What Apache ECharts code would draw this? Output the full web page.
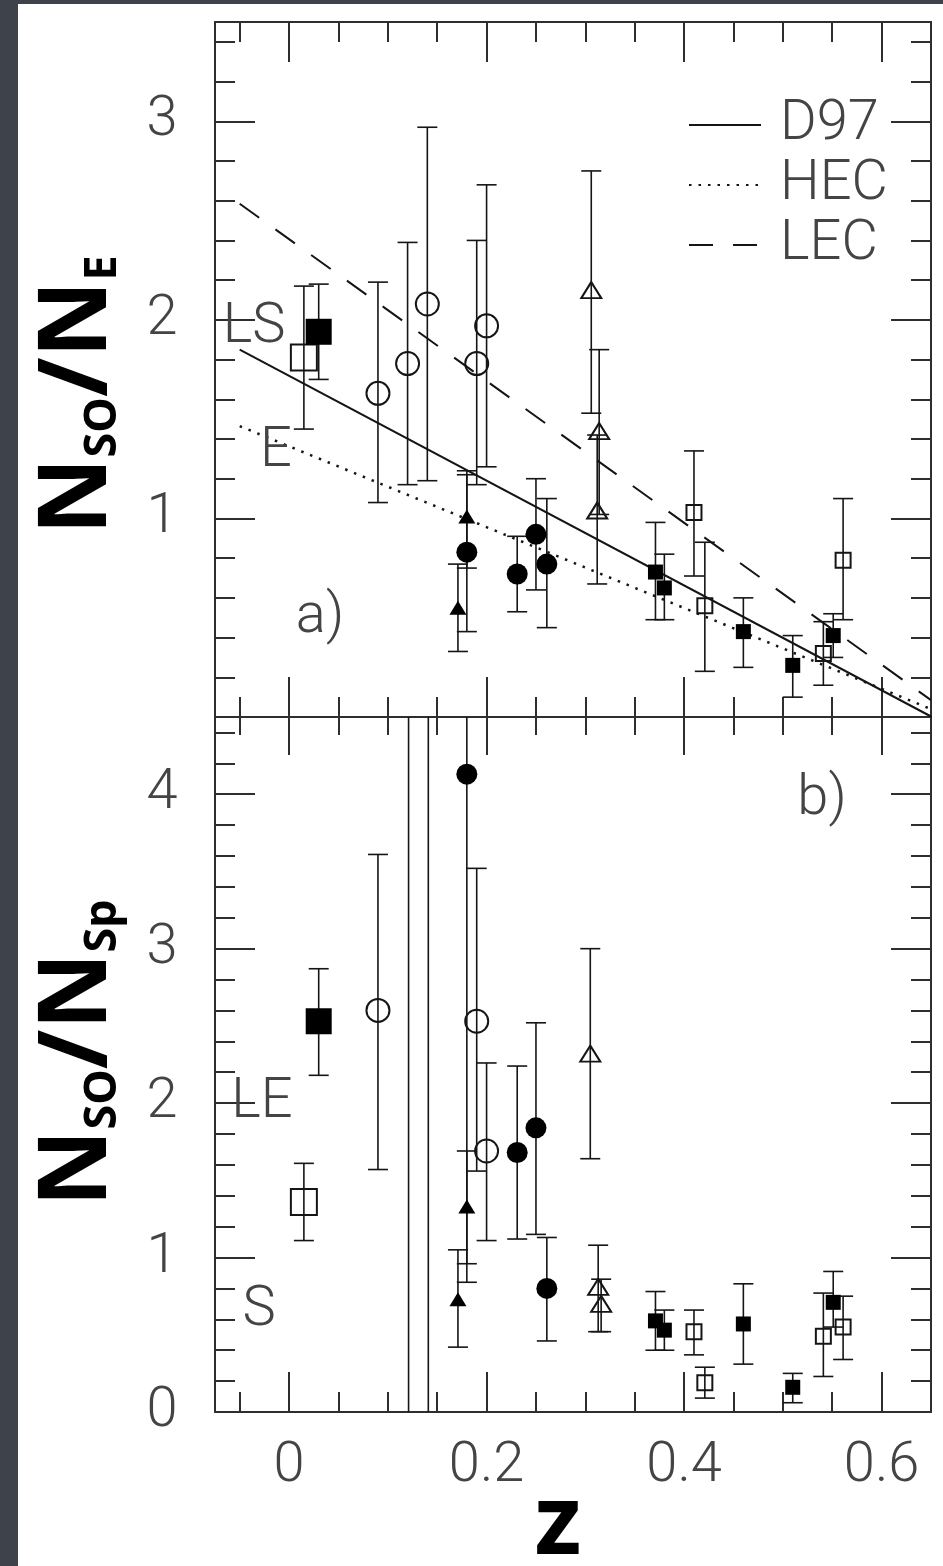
<!DOCTYPE html>
<html>
<head>
<meta charset="utf-8">
<script src="https://cdn.jsdelivr.net/npm/echarts@6/dist/echarts.min.js"></script>
<style>
  html, body { margin: 0; padding: 0; background: #ffffff; }
  #chart { width: 943px; height: 1566px; }
</style>
</head>
<body>
<div id="chart"></div>
<script>
// ---- axis ranges ----
const Z_MIN = -0.075, Z_MAX = 0.65;
const A_MAX = 3.5;   // panel a) N_SO/N_E
const B_MAX = 4.5;   // panel b) N_SO/N_Sp

// ---- tick values ----
const zMinorTicks = [-0.05, 0, 0.05, 0.1, 0.15, 0.2, 0.25, 0.3, 0.35, 0.4, 0.45, 0.5, 0.55, 0.6];
const zMajorTicks = [0, 0.2, 0.4, 0.6];
const zTickLabels = [0, 0.2, 0.4, 0.6];
const aMinorTicks = [0.2, 0.4, 0.6, 0.8, 1, 1.2, 1.4, 1.6, 1.8, 2, 2.2, 2.4, 2.6, 2.8, 3, 3.2, 3.4];
const aMajorTicks = [1, 2, 3];
const aTickLabels = [1, 2, 3];
const bMinorTicks = [0.2, 0.4, 0.6, 0.8, 1, 1.2, 1.4, 1.6, 1.8, 2, 2.2, 2.4, 2.6, 2.8, 3, 3.2, 3.4, 3.6, 3.8, 4, 4.2, 4.4];
const bMajorTicks = [1, 2, 3, 4];
const bTickLabels = [0, 1, 2, 3, 4];

// ---- panel a): rows are [z, ratio, low, high] ----
const aBigOpenSquares   = [[0.015, 1.81, 1.45, 2.17]];
const aBigFilledSquares = [[0.030, 1.94, 1.70, 2.18]];
const aOpenCircles = [
  [0.090, 1.63, 1.08, 2.19],
  [0.120, 1.78, 1.17, 2.39],
  [0.140, 2.08, 1.19, 2.97],
  [0.190, 1.78, 1.17, 2.40],
  [0.200, 1.97, 1.26, 2.68]
];
const aFilledTriangles = [
  [0.171, 0.55, 0.33, 0.77],
  [0.180, 1.01, 0.75, 1.24]
];
const aFilledCircles = [
  [0.180, 0.83, 0.43, 1.22],
  [0.231, 0.72, 0.53, 0.91],
  [0.250, 0.92, 0.64, 1.20],
  [0.261, 0.77, 0.45, 1.10]
];
const aOpenTriangles = [
  [0.306, 2.15, 1.53, 2.75],
  [0.314, 1.44, 1.02, 1.85],
  [0.312, 1.04, 0.67, 1.42]
];
const aSmallFilledSquares = [
  [0.371, 0.73, 0.49, 0.98],
  [0.380, 0.65, 0.49, 0.82],
  [0.460, 0.43, 0.25, 0.60],
  [0.510, 0.26, 0.10, 0.41],
  [0.551, 0.41, 0.30, 0.52]
];
const aSmallOpenSquares = [
  [0.410, 1.03, 0.71, 1.34],
  [0.421, 0.56, 0.23, 0.88],
  [0.541, 0.32, 0.16, 0.48],
  [0.561, 0.79, 0.49, 1.10]
];

// model relations in panel a): [z, ratio] end points
const d97Line = [[-0.05, 1.85], [0.651, 0.0]];
const hecLine = [[-0.05, 1.465], [0.65, 0.04]];
const lecLine = [[-0.05, 2.585], [0.65, 0.085]];

// ---- panel b): rows are [z, ratio, low, high] ----
const bBigOpenSquares   = [[0.015, 1.36, 1.11, 1.61]];
const bBigFilledSquares = [[0.030, 2.53, 2.18, 2.87]];
const bOpenCircles = [
  [0.090, 2.60, 1.57, 3.61],
  [0.121, 5.60, -0.3, 11.0],   // off scale
  [0.141, 6.90, -0.2, 14.0],   // off scale
  [0.190, 2.53, 1.56, 3.52],
  [0.200, 1.69, 1.11, 2.26]
];
const bFilledTriangles = [
  [0.171, 0.73, 0.42, 1.05],
  [0.180, 1.33, 0.96, 1.69]
];
const bFilledCircles = [
  [0.180, 4.13, 0.84, 4.90],
  [0.231, 1.68, 1.12, 2.24],
  [0.250, 1.84, 1.15, 2.52],
  [0.261, 0.80, 0.46, 1.13]
];
const bOpenTriangles = [
  [0.305, 2.32, 1.64, 3.00],
  [0.313, 0.81, 0.52, 1.08],
  [0.316, 0.70, 0.52, 0.86]
];
const bSmallFilledSquares = [
  [0.371, 0.59, 0.40, 0.78],
  [0.380, 0.53, 0.40, 0.66],
  [0.460, 0.57, 0.31, 0.83],
  [0.510, 0.16, 0.06, 0.25],
  [0.551, 0.71, 0.55, 0.91]
];
const bSmallOpenSquares = [
  [0.410, 0.52, 0.37, 0.66],
  [0.421, 0.19, 0.09, 0.29],
  [0.541, 0.49, 0.23, 0.77],
  [0.561, 0.55, 0.34, 0.75]
];

// ---- styling ----
const FRAME = '#2e2e2e';
const INK = '#000000';
const LABEL_FONT = 'Roboto';
const LABEL_COLOR = '#444';
const LABEL_SIZE = 56;

const chart = echarts.init(document.getElementById('chart'), null, { renderer: 'canvas' });

// axis helpers: several overlaid axes give minor/major tick lengths
function xAxisDef(grid, position, ticks, len, showLine, labels) {
  return {
    type: 'value', gridIndex: grid, position: position, min: Z_MIN, max: Z_MAX,
    axisLine: { show: showLine, onZero: false, lineStyle: { color: FRAME, width: 2 } },
    axisTick: { show: true, inside: true, length: len, customValues: ticks, lineStyle: { color: FRAME, width: 2 } },
    axisLabel: labels ? {
      show: true, customValues: labels, margin: 27,
      fontFamily: LABEL_FONT, fontWeight: 300, fontSize: LABEL_SIZE, color: LABEL_COLOR,
      formatter: v => String(+v.toFixed(2))
    } : { show: false },
    splitLine: { show: false }
  };
}
function yAxisDef(grid, position, max, ticks, len, showLine, labels) {
  return {
    type: 'value', gridIndex: grid, position: position, min: 0, max: max,
    axisLine: { show: showLine, onZero: false, lineStyle: { color: FRAME, width: 2 } },
    axisTick: { show: true, inside: true, length: len, customValues: ticks, lineStyle: { color: FRAME, width: 2 } },
    axisLabel: labels ? {
      show: true, customValues: labels, margin: 53, align: 'center',
      fontFamily: LABEL_FONT, fontWeight: 300, fontSize: LABEL_SIZE, color: LABEL_COLOR,
      formatter: v => String(+v.toFixed(2))
    } : { show: false },
    splitLine: { show: false }
  };
}

const xAxes = [
  xAxisDef(0, 'bottom', zMinorTicks, 20, true, null),   // 0: a) bottom (used by series)
  xAxisDef(0, 'bottom', zMajorTicks, 40, false, null),
  xAxisDef(0, 'top', zMinorTicks, 20, true, null),
  xAxisDef(0, 'top', zMajorTicks, 40, false, null),
  xAxisDef(1, 'bottom', zMinorTicks, 20, true, zTickLabels), // 4: b) bottom (used by series)
  xAxisDef(1, 'bottom', zMajorTicks, 40, false, null),
  xAxisDef(1, 'top', zMinorTicks, 18, true, null),
  xAxisDef(1, 'top', zMajorTicks, 38, false, null)
];
const yAxes = [
  yAxisDef(0, 'left', A_MAX, aMinorTicks, 20, true, aTickLabels), // 0: a) left (used by series)
  yAxisDef(0, 'left', A_MAX, aMajorTicks, 40, false, null),
  yAxisDef(0, 'right', A_MAX, aMinorTicks, 20, true, null),
  yAxisDef(0, 'right', A_MAX, aMajorTicks, 40, false, null),
  yAxisDef(1, 'left', B_MAX, bMinorTicks, 20, true, bTickLabels), // 4: b) left (used by series)
  yAxisDef(1, 'left', B_MAX, bMajorTicks, 40, false, null),
  yAxisDef(1, 'right', B_MAX, bMinorTicks, 20, true, null),
  yAxisDef(1, 'right', B_MAX, bMajorTicks, 40, false, null)
];

// vertical error bars with end caps
function errorBars(rows, xi, yi) {
  return {
    type: 'custom', xAxisIndex: xi, yAxisIndex: yi, clip: true, silent: true, z: 2,
    data: rows.map(r => [r[0], r[2], r[3]]),
    encode: { x: 0, y: [1, 2] },
    renderItem: function (params, api) {
      const z = api.value(0);
      const lo = api.coord([z, api.value(1)]);
      const hi = api.coord([z, api.value(2)]);
      const cap = 10;
      const style = { stroke: '#151515', lineWidth: 1.6, fill: null };
      return {
        type: 'group', children: [
          { type: 'line', shape: { x1: lo[0], y1: lo[1], x2: hi[0], y2: hi[1] }, style: style },
          { type: 'line', shape: { x1: lo[0] - cap, y1: lo[1], x2: lo[0] + cap, y2: lo[1] }, style: style },
          { type: 'line', shape: { x1: hi[0] - cap, y1: hi[1], x2: hi[0] + cap, y2: hi[1] }, style: style }
        ]
      };
    }
  };
}

function markers(rows, xi, yi, symbol, size, filled) {
  return {
    type: 'scatter', xAxisIndex: xi, yAxisIndex: yi, clip: true, silent: true, z: 3,
    data: rows.map(r => [r[0], r[1]]),
    symbol: symbol, symbolSize: size,
    itemStyle: {
      color: filled ? INK : 'rgba(0,0,0,0)',
      borderColor: '#151515', borderWidth: filled ? 0 : 2,
      opacity: 1
    }
  };
}

function panelSeries(xi, yi, g) {
  const all = [].concat(g.bigOpen, g.bigFilled, g.openCircles, g.filledTriangles,
    g.filledCircles, g.openTriangles, g.smallFilled, g.smallOpen);
  return [
    errorBars(all, xi, yi),
    markers(g.bigOpen, xi, yi, 'rect', 26, false),
    markers(g.bigFilled, xi, yi, 'rect', 26, true),
    markers(g.openCircles, xi, yi, 'circle', 23, false),
    markers(g.filledTriangles, xi, yi, 'triangle', [17, 14], true),
    markers(g.filledCircles, xi, yi, 'circle', 21, true),
    markers(g.openTriangles, xi, yi, 'triangle', [20, 16], false),
    markers(g.smallFilled, xi, yi, 'rect', 15, true),
    markers(g.smallOpen, xi, yi, 'rect', 15, false)
  ];
}

function modelLine(name, data, type, width) {
  return {
    type: 'line', name: name, xAxisIndex: 0, yAxisIndex: 0, data: data,
    symbol: 'none', silent: true, clip: true, z: 1,
    itemStyle: { color: '#151515' },
    lineStyle: { color: '#151515', width: width, type: type }
  };
}

const series = [].concat(
  [
    modelLine('D97', d97Line, 'solid', 2),
    modelLine('HEC', hecLine, [2.5, 7], 2.5),
    modelLine('LEC', lecLine, [24, 20], 2)
  ],
  panelSeries(0, 0, {
    bigOpen: aBigOpenSquares, bigFilled: aBigFilledSquares, openCircles: aOpenCircles,
    filledTriangles: aFilledTriangles, filledCircles: aFilledCircles, openTriangles: aOpenTriangles,
    smallFilled: aSmallFilledSquares, smallOpen: aSmallOpenSquares
  }),
  panelSeries(4, 4, {
    bigOpen: bBigOpenSquares, bigFilled: bBigFilledSquares, openCircles: bOpenCircles,
    filledTriangles: bFilledTriangles, filledCircles: bFilledCircles, openTriangles: bOpenTriangles,
    smallFilled: bSmallFilledSquares, smallOpen: bSmallOpenSquares
  })
);

function note(text, x, y) {
  return {
    type: 'text', x: x, y: y, silent: true, z: 10,
    style: {
      text: text, fill: LABEL_COLOR, align: 'center', verticalAlign: 'middle',
      font: '300 ' + LABEL_SIZE + 'px ' + LABEL_FONT
    }
  };
}

const TITLE_FONT = 'Noto Sans';
const titleRich = {
  big: { fontFamily: TITLE_FONT, fontWeight: 'bold', fontSize: 95, fill: '#000', verticalAlign: 'bottom', lineHeight: 100 },
  small: { fontFamily: TITLE_FONT, fontWeight: 'bold', fontSize: 45, fill: '#000', verticalAlign: 'bottom', lineHeight: 100 }
};

const option = {
  animation: false,
  backgroundColor: '#ffffff',
  grid: [
    { left: 215, top: 22, width: 716, height: 695, containLabel: false },
    { left: 215, top: 717, width: 716, height: 695, containLabel: false }
  ],
  xAxis: xAxes,
  yAxis: yAxes,
  legend: {
    orient: 'vertical', left: 683, top: 92,
    itemWidth: 72, itemHeight: 14, itemGap: 4,
    data: ['D97', 'HEC', 'LEC'],
    selectedMode: false,
    itemStyle: { opacity: 0 },
    textStyle: {
      fontFamily: LABEL_FONT, fontWeight: 300, fontSize: LABEL_SIZE, color: LABEL_COLOR,
      lineHeight: 56, padding: [0, 0, 0, 14]
    }
  },
  graphic: [
    // dark border strips
    { type: 'rect', shape: { x: 0, y: 0, width: 18, height: 1566 }, style: { fill: '#3d424b' }, silent: true },
    { type: 'rect', shape: { x: 0, y: 0, width: 943, height: 4 }, style: { fill: '#3d424b' }, silent: true },
    // panel annotations
    note('LS', 254, 328),
    note('E', 276, 452),
    note('a)', 320, 618),
    note('b)', 822, 800),
    note('LE', 262, 1103),
    note('S', 259, 1311),
    // axis titles
    {
      type: 'text', x: 76, y: 395, rotation: Math.PI / 2, silent: true, z: 10,
      style: { text: '{big|N}{small|SO}{big|/N}{small|E}', rich: titleRich, align: 'center', verticalAlign: 'middle' }
    },
    {
      type: 'text', x: 76, y: 1053, rotation: Math.PI / 2, silent: true, z: 10,
      style: { text: '{big|N}{small|SO}{big|/N}{small|Sp}', rich: titleRich, align: 'center', verticalAlign: 'middle' }
    },
    {
      type: 'text', x: 558, y: 1527, silent: true, z: 10,
      style: { text: 'z', fill: '#000', align: 'center', verticalAlign: 'middle', font: 'bold 96px ' + TITLE_FONT }
    }
  ],
  series: series
};

chart.setOption(option);
</script>
</body>
</html>
